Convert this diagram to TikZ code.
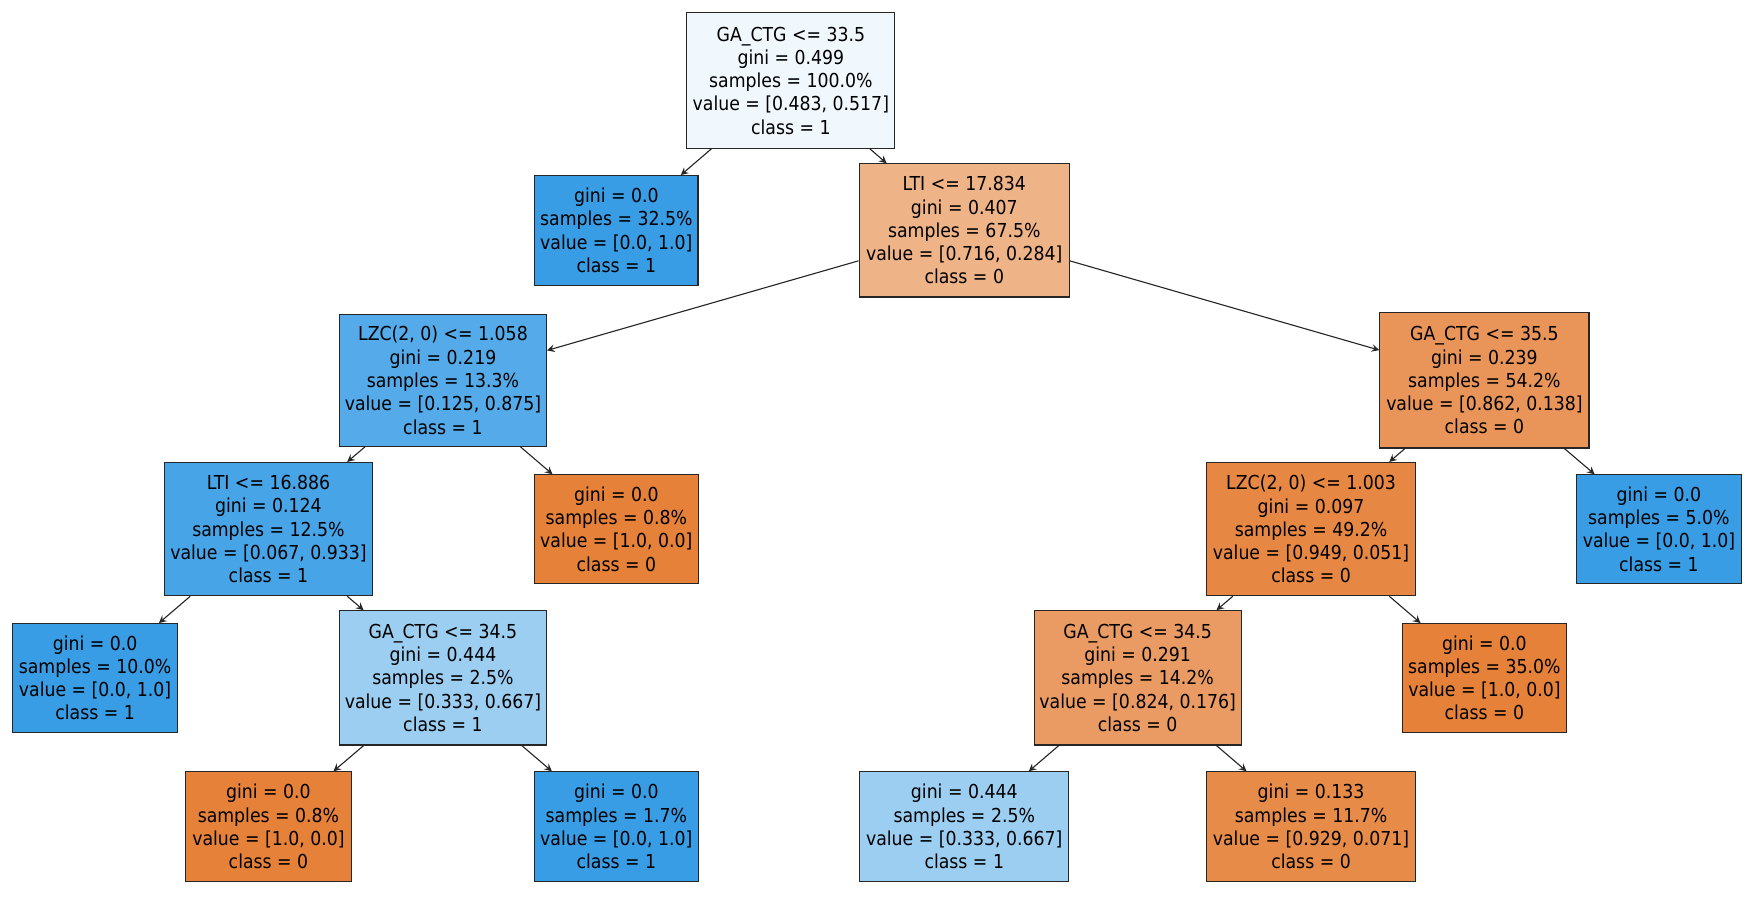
\documentclass[tikz,border=0pt]{standalone}
\usepackage{fontspec}
\setmainfont{DejaVu Sans Condensed}
\definecolor{cb}{HTML}{399DE5}
\definecolor{co}{HTML}{E58139}
\begin{document}
\begin{tikzpicture}[x=0.5pt,y=-0.5pt,
  n/.style={draw=black!85,line width=0.5pt,align=center,font=\fontsize{8.6}{10.4}\selectfont,inner sep=1pt,minimum height=#1*0.5pt},
  w/.style={minimum width=#1*0.5pt},
  e/.style={->,>=stealth,line width=0.5pt,black!85}]
\useasboundingbox (0,0) rectangle (1568,804);
\node[n=121,w=186,fill=cb!7] (r) at (707,72) {GA\_CTG <= 33.5\\gini = 0.499\\samples = 100.0\%\\value = [0.483, 0.517]\\class = 1};
\node[n=98,w=146,fill=cb] (a) at (551,206) {gini = 0.0\\samples = 32.5\%\\value = [0.0, 1.0]\\class = 1};
\node[n=119,w=188,fill=co!60] (b) at (862,206) {LTI <= 17.834\\gini = 0.407\\samples = 67.5\%\\value = [0.716, 0.284]\\class = 0};
\node[n=118,w=185,fill=cb!86] (c) at (396,340) {LZC(2, 0) <= 1.058\\gini = 0.219\\samples = 13.3\%\\value = [0.125, 0.875]\\class = 1};
\node[n=121,w=187,fill=co!84] (d) at (1327,340) {GA\_CTG <= 35.5\\gini = 0.239\\samples = 54.2\%\\value = [0.862, 0.138]\\class = 0};
\node[n=119,w=186,fill=cb!93] (f) at (240,473) {LTI <= 16.886\\gini = 0.124\\samples = 12.5\%\\value = [0.067, 0.933]\\class = 1};
\node[n=97,w=147,fill=co] (g) at (551,473) {gini = 0.0\\samples = 0.8\%\\value = [1.0, 0.0]\\class = 0};
\node[n=119,w=187,fill=co!95] (h) at (1172,473) {LZC(2, 0) <= 1.003\\gini = 0.097\\samples = 49.2\%\\value = [0.949, 0.051]\\class = 0};
\node[n=97,w=147,fill=cb] (i) at (1483,473) {gini = 0.0\\samples = 5.0\%\\value = [0.0, 1.0]\\class = 1};
\node[n=97,w=147,fill=cb] (j) at (85,606) {gini = 0.0\\samples = 10.0\%\\value = [0.0, 1.0]\\class = 1};
\node[n=120,w=185,fill=cb!50] (k) at (396,606) {GA\_CTG <= 34.5\\gini = 0.444\\samples = 2.5\%\\value = [0.333, 0.667]\\class = 1};
\node[n=120,w=185,fill=co!79] (l) at (1017,606) {GA\_CTG <= 34.5\\gini = 0.291\\samples = 14.2\%\\value = [0.824, 0.176]\\class = 0};
\node[n=97,w=147,fill=co] (m) at (1327,606) {gini = 0.0\\samples = 35.0\%\\value = [1.0, 0.0]\\class = 0};
\node[n=98,w=148,fill=co] (o) at (240,739) {gini = 0.0\\samples = 0.8\%\\value = [1.0, 0.0]\\class = 0};
\node[n=98,w=147,fill=cb] (p) at (551,739) {gini = 0.0\\samples = 1.7\%\\value = [0.0, 1.0]\\class = 1};
\node[n=98,w=187,fill=cb!50] (q) at (862,739) {gini = 0.444\\samples = 2.5\%\\value = [0.333, 0.667]\\class = 1};
\node[n=98,w=187,fill=co!92] (s) at (1172,739) {gini = 0.133\\samples = 11.7\%\\value = [0.929, 0.071]\\class = 0};
\foreach \u/\v in {r/a,r/b,b/c,b/d,c/f,c/g,d/h,d/i,f/j,f/k,h/l,h/m,k/o,k/p,l/q,l/s}
  \draw[e] (\u) -- (\v);
\end{tikzpicture}
\end{document}
